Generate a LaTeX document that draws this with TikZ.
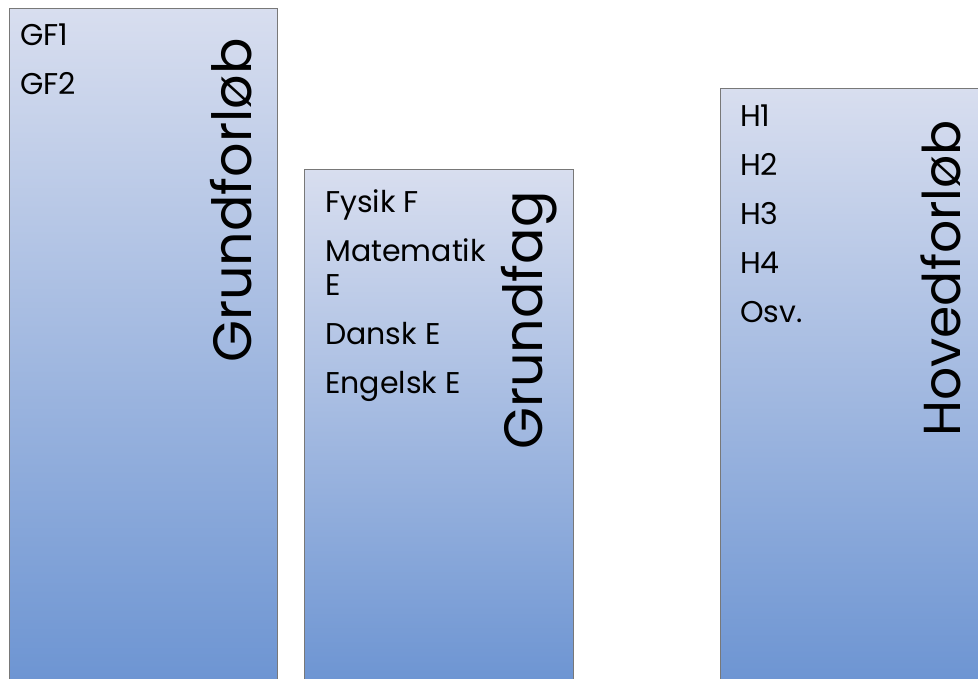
\documentclass[tikz,border=0pt]{standalone}
\usepackage{fontspec}
\setmainfont{Poppins}
\begin{document}
\begin{tikzpicture}[x=1pt,y=1pt,
  colbox/.style={draw=boxgray, line width=0.9pt, top color=topblue, bottom color=botblue, anchor=north west, inner sep=0pt},
  item/.style={anchor=base west, inner sep=0pt, font=\fontsize{30}{35}\selectfont, text=black},
  vtitle/.style={anchor=base west, inner sep=0pt, rotate=90, text=black}]
\definecolor{boxgray}{RGB}{120,120,120}
\definecolor{topblue}{RGB}{216,222,239}
\definecolor{botblue}{RGB}{108,148,210}
\clip (0,0) rectangle (978,679);
\node[colbox, minimum width=268pt, minimum height=680pt] (b1) at (9,671) {};
\node[colbox, minimum width=269pt, minimum height=518pt] (b2) at (304,510) {};
\node[colbox, minimum width=280pt, minimum height=599pt] (b3) at (720,591) {};
% box 1
\node[item] (gf1) at (20,633) {GF1};
\node[item] (gf2) at (20,584) {GF2};
\node[vtitle, font=\fontsize{54}{60}\selectfont] (t1) at (251,316) {Grundforløb};
% box 2
\node[item] (fy) at (325,466) {Fysik F};
\node[item] (ma) at (325,417) {Matematik};
\node[item] (mae) at (325,383) {E};
\node[item] (da) at (325,334) {Dansk E};
\node[item] (en) at (325,285) {Engelsk E};
\node[vtitle, font=\fontsize{54}{60}\selectfont] (t2) at (542,229) {Grundfag};
% box 3
\node[item] (h1) at (740,552) {H1};
\node[item] (h2) at (740,503) {H2};
\node[item] (h3) at (740,454) {H3};
\node[item] (h4) at (740,405) {H4};
\node[item] (osv) at (740,356) {Osv.};
\node[vtitle, font=\fontsize{52}{58}\selectfont] (t3) at (960,242) {Hovedforløb};
\end{tikzpicture}
\end{document}
